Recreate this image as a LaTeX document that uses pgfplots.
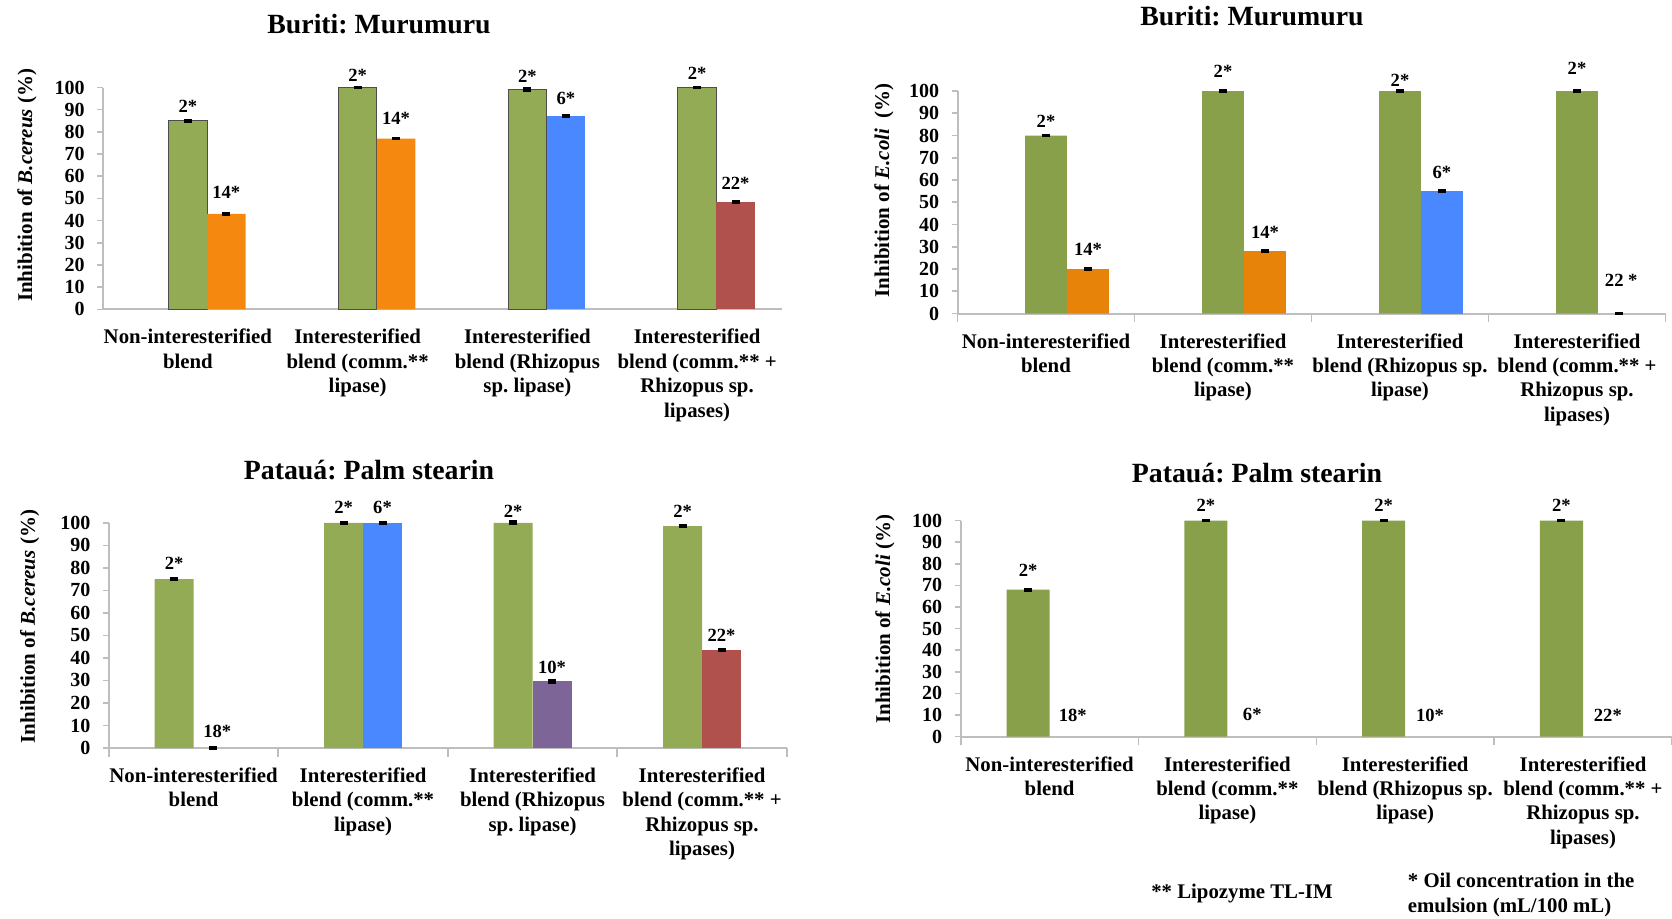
\documentclass[border=0pt]{standalone}
\usepackage{fontspec}
\setmainfont{Liberation Serif}
\usepackage{pgfplots}
\pgfplotsset{compat=1.18}
\frenchspacing
\definecolor{gA}{HTML}{94AB56}
\definecolor{gB}{HTML}{88A04A}
\definecolor{orA}{HTML}{F5890F}
\definecolor{orB}{HTML}{E8830A}
\definecolor{blu}{HTML}{4A88FF}
\definecolor{redd}{HTML}{B0514D}
\definecolor{purp}{HTML}{7D6598}
\definecolor{axg}{HTML}{BEBEBE}
\tikzset{lbl/.style={font=\bfseries\fontsize{9.3}{10}\selectfont, anchor=center, inner sep=0pt}}
\pgfplotsset{
  panel/.style={
    scale only axis, anchor=south west,
    xmin=-0.5, xmax=3.5, ymin=0, ymax=100,
    axis lines*=left,
    axis line style={axg, line width=1pt, -},
    ytick={0,10,...,100},
    tick align=outside,
    major tick length=3pt,
    ytick style={axg, line width=0.8pt},
    xtick={0,1,2,3},
    xtick style={draw=none},
    tick label style={font=\bfseries\fontsize{10}{11}\selectfont},
    yticklabel style={xshift=-2.7pt},
    /pgf/number format/assume math mode=true,
    xticklabel style={font=\bfseries\fontsize{10.4}{12.2}\selectfont, align=center, yshift=-3.4pt},
    ylabel style={font=\bfseries\fontsize{10.5}{12}\selectfont, anchor=center},
    clip=false,
  },
  xbound/.style={minor xtick={-0.5,0.5,1.5,2.5,3.5}, minor tick length=4.25pt,
    minor x tick style={draw=axg, line width=0.8pt}},
  errb/.style={error bars/.cd, y dir=both, y explicit,
    error bar style={line width=1pt, black},
    error mark options={rotate=90, mark size=2pt, line width=1.3pt, black}},
}
\begin{document}
\begin{tikzpicture}
\useasboundingbox (0,0) rectangle (836pt,459pt);

% ---------- Panel 1: Buriti: Murumuru, B. cereus ----------
\begin{axis}[panel, at={(51.5pt,304.35pt)}, width=339.5pt, height=110.9pt,
  xticklabels={{Non-interesterified\\blend},{Interesterified\\blend (comm.**\\lipase)},{Interesterified\\blend (Rhizopus\\sp. lipase)},{Interesterified\\blend (comm.** +\\Rhizopus sp.\\lipases)}},
  ylabel={Inhibition of \textit{B.cereus} (\%)},
  ylabel style={at={(axis description cs:-0.112,0.559)}}]
\addplot[ybar, bar width=0.2265, bar shift=0pt, fill=gA, draw=black!70, line width=0.5pt, errb]
  coordinates {(0,85) +- (0,0.4) (1,100) +- (0,0.3) (2,99) +- (0,0.5) (3,100) +- (0,0.2)};
\addplot[ybar, bar width=0.2265, bar shift=0pt, fill=orA, draw=none, errb]
  coordinates {(0.2265,43) +- (0,0.3) (1.2265,77) +- (0,0.3)};
\addplot[ybar, bar width=0.2265, bar shift=0pt, fill=blu, draw=none, errb]
  coordinates {(2.2265,87.3) +- (0,0.3)};
\addplot[ybar, bar width=0.2265, bar shift=0pt, fill=redd, draw=none, errb]
  coordinates {(3.2265,48.3) +- (0,0.4)};
\node[lbl] at (axis cs:0,91.3) {2*};
\node[lbl] at (axis cs:0.2265,52.6) {14*};
\node[lbl] at (axis cs:1,105.6) {2*};
\node[lbl] at (axis cs:1.2265,86) {14*};
\node[lbl] at (axis cs:2,105) {2*};
\node[lbl] at (axis cs:2.2265,95) {6*};
\node[lbl] at (axis cs:3,106.3) {2*};
\node[lbl] at (axis cs:3.2265,57) {22*};
\end{axis}

% ---------- Panel 2: Buriti: Murumuru, E. coli ----------
\begin{axis}[panel, xbound, at={(478.75pt,302.25pt)}, width=354pt, height=111.25pt,
  xticklabels={{Non-interesterified\\blend},{Interesterified\\blend (comm.**\\lipase)},{Interesterified\\blend (Rhizopus sp.\\lipase)},{Interesterified\\blend (comm.** +\\Rhizopus sp.\\lipases)}},
  ylabel={Inhibition of \textit{E.coli}\ \ (\%)},
  ylabel style={at={(axis description cs:-0.104,0.554)}}]
\addplot[ybar, bar width=0.237, bar shift=0pt, fill=gB, draw=none, errb]
  coordinates {(0,80) +- (0,0.3) (1,100) +- (0,0.2) (2,100) +- (0,0.2) (3,100) +- (0,0.2)};
\addplot[ybar, bar width=0.237, bar shift=0pt, fill=orB, draw=none, errb]
  coordinates {(0.237,20) +- (0,0.3) (1.237,28) +- (0,0.3)};
\addplot[ybar, bar width=0.237, bar shift=0pt, fill=blu, draw=none, errb]
  coordinates {(2.237,55) +- (0,0.2)};
\addplot[ybar, bar width=0.237, bar shift=0pt, fill=none, draw=none, errb]
  coordinates {(3.237,0) +- (0,0.2)};
\node[lbl] at (axis cs:0,86.5) {2*};
\node[lbl] at (axis cs:0.237,28.7) {14*};
\node[lbl] at (axis cs:1,109) {2*};
\node[lbl] at (axis cs:1.237,36.4) {14*};
\node[lbl] at (axis cs:2,104.8) {2*};
\node[lbl] at (axis cs:2.237,63.6) {6*};
\node[lbl] at (axis cs:3,110) {2*};
\node[lbl] at (axis cs:3.25,14.7) {22 *};
\end{axis}

% ---------- Panel 3: Pataua: Palm stearin, B. cereus ----------
\begin{axis}[panel, xbound, at={(54.4pt,85pt)}, width=339pt, height=112.6pt,
  xticklabels={{Non-interesterified\\blend},{Interesterified\\blend (comm.**\\lipase)},{Interesterified\\blend (Rhizopus\\sp. lipase)},{Interesterified\\blend (comm.** +\\Rhizopus sp.\\lipases)}},
  ylabel={Inhibition of \textit{B.cereus} (\%)},
  ylabel style={at={(axis description cs:-0.1165,0.539)}}]
\addplot[ybar, bar width=0.23, bar shift=0pt, fill=gA, draw=none, errb]
  coordinates {(-0.115,75) +- (0,0.3) (0.885,100) +- (0,0.3) (1.885,100) +- (0,0.6) (2.885,98.5) +- (0,0.3)};
\addplot[ybar, bar width=0.23, bar shift=0pt, fill=blu, draw=none, errb]
  coordinates {(1.115,100) +- (0,0.3)};
\addplot[ybar, bar width=0.23, bar shift=0pt, fill=purp, draw=none, errb]
  coordinates {(2.115,29.6) +- (0,0.5)};
\addplot[ybar, bar width=0.23, bar shift=0pt, fill=redd, draw=none, errb]
  coordinates {(3.115,43.4) +- (0,0.3)};
\addplot[ybar, bar width=0.23, bar shift=0pt, fill=none, draw=none, errb]
  coordinates {(0.115,0) +- (0,0.2)};
\node[lbl] at (axis cs:-0.115,82) {2*};
\node[lbl] at (axis cs:0.14,7.4) {18*};
\node[lbl] at (axis cs:0.885,106.8) {2*};
\node[lbl] at (axis cs:1.115,106.8) {6*};
\node[lbl] at (axis cs:1.885,104.9) {2*};
\node[lbl] at (axis cs:2.115,36) {10*};
\node[lbl] at (axis cs:2.885,104.9) {2*};
\node[lbl] at (axis cs:3.115,50) {22*};
\end{axis}

% ---------- Panel 4: Pataua: Palm stearin, E. coli ----------
\begin{axis}[panel, xbound, at={(480.35pt,90.75pt)}, width=355.6pt, height=108pt,
  xticklabels={{Non-interesterified\\blend},{Interesterified\\blend (comm.**\\lipase)},{Interesterified\\blend (Rhizopus sp.\\lipase)},{Interesterified\\blend (comm.** +\\Rhizopus sp.\\lipases)}},
  ylabel={Inhibition of \textit{E.coli} (\%)},
  ylabel style={at={(axis description cs:-0.1066,0.543)}}]
\addplot[ybar, bar width=0.242, bar shift=0pt, fill=gB, draw=none, errb]
  coordinates {(-0.121,68) +- (0,0.3) (0.879,100) +- (0,0.3) (1.879,100) +- (0,0.2) (2.879,100) +- (0,0.3)};
\node[lbl] at (axis cs:-0.121,76.8) {2*};
\node[lbl] at (axis cs:0.13,10) {18*};
\node[lbl] at (axis cs:0.879,106.8) {2*};
\node[lbl] at (axis cs:1.14,10) {6*};
\node[lbl] at (axis cs:1.879,106.8) {2*};
\node[lbl] at (axis cs:2.14,10) {10*};
\node[lbl] at (axis cs:2.879,106.8) {2*};
\node[lbl] at (axis cs:3.14,10) {22*};
\end{axis}

% ---------- titles and notes ----------
\node[font=\bfseries\fontsize{13.9}{16}\selectfont] at (189.5pt,447pt) {Buriti: Murumuru};
\node[font=\bfseries\fontsize{13.9}{16}\selectfont] at (626pt,451pt) {Buriti: Murumuru};
\node[font=\bfseries\fontsize{13.9}{16}\selectfont] at (184.5pt,224pt) {Patauá: Palm stearin};
\node[font=\bfseries\fontsize{13.9}{16}\selectfont] at (628.5pt,222.25pt) {Patauá: Palm stearin};
\node[font=\bfseries\fontsize{10.4}{12.2}\selectfont] at (621pt,12.25pt) {** Lipozyme TL-IM};
\node[font=\bfseries\fontsize{10.4}{12.75}\selectfont, anchor=west, align=left, inner sep=0pt] at (703.75pt,11.6pt) {* Oil concentration in the\\emulsion (mL/100 mL)};
\end{tikzpicture}
\end{document}
